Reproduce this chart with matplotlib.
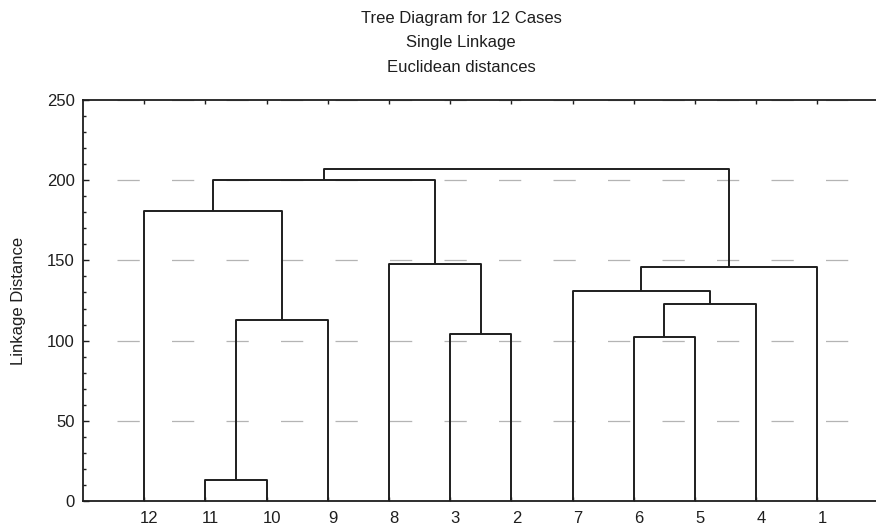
import matplotlib
matplotlib.use("Agg")
import matplotlib.pyplot as plt
import matplotlib.transforms as mtransforms
from matplotlib.ticker import MultipleLocator

plt.rcParams['font.family'] = ['Liberation Sans', 'DejaVu Sans']

# leaf order along the x axis (case numbers)
leaf_order = ['12', '11', '10', '9', '8', '3', '2', '7', '6', '5', '4', '1']

# single-linkage merges: (left cluster, right cluster, linkage distance, new cluster name)
merges = [
    ('11', '10', 13, 'A'),
    ('A', '9', 113, 'B'),
    ('12', 'B', 181, 'C'),
    ('3', '2', 104, 'D'),
    ('8', 'D', 148, 'E'),
    ('C', 'E', 200, 'F'),
    ('6', '5', 102, 'G'),
    ('G', '4', 123, 'H'),
    ('7', 'H', 131, 'I'),
    ('I', '1', 146, 'J'),
    ('F', 'J', 207, 'K'),
]

title_lines = ['Tree Diagram for 12 Cases', 'Single Linkage', 'Euclidean distances']
y_label = 'Linkage Distance'

fig = plt.figure(figsize=(8.76, 5.27), dpi=100)
ax = fig.add_axes([83 / 876, 1 - 501 / 527, 1 - 83 / 876, 401 / 527])

# x position and height of every node
pos = {name: i + 1 for i, name in enumerate(leaf_order)}
height = {name: 0 for name in leaf_order}

line_kw = dict(color='#1e1e1e', lw=1.4, solid_capstyle='butt', zorder=3)
for left, right, h, new in merges:
    xl, xr = pos[left], pos[right]
    ax.plot([xl, xl, xr, xr], [height[left], h, h, height[right]], **line_kw)
    pos[new] = (xl + xr) / 2
    height[new] = h

ax.set_xlim(0, 12.96)
ax.set_ylim(0, 250)

ax.set_xticks(range(1, len(leaf_order) + 1))
ax.set_xticklabels(leaf_order)
ax.yaxis.set_major_locator(MultipleLocator(50))
ax.yaxis.set_minor_locator(MultipleLocator(10))

ax.tick_params(axis='x', direction='in', top=True, bottom=True, length=3,
               width=1, labelsize=12, pad=7, colors='#1e1e1e')
ax.tick_params(axis='y', which='major', direction='in', length=4, width=1,
               labelsize=12, pad=6, colors='#1e1e1e')
ax.tick_params(axis='y', which='minor', direction='in', length=2.5, width=1,
               colors='#1e1e1e')

# scanned labels sit a little to the right of the leaves
shift = mtransforms.ScaledTranslation(5 / 100, 0, fig.dpi_scale_trans)
for lab in ax.get_xticklabels():
    lab.set_transform(lab.get_transform() + shift)

# sparse dashed horizontal grid (faint, dotted look in the scan)
ax.grid(axis='y', which='major', color='#b4b4b4', lw=0.9,
        linestyle=(16.4, (17.8, 25.8)), zorder=0)
ax.set_axisbelow(True)

for side in ['left', 'top', 'bottom']:
    ax.spines[side].set_color('#1e1e1e')
    ax.spines[side].set_linewidth(1.3)
ax.spines['right'].set_visible(False)

ax.set_ylabel(y_label, fontsize=12, color='#1e1e1e')
ax.yaxis.set_label_coords(-0.072, 0.5)

for txt, ypx in zip(title_lines, [19, 43, 67]):
    fig.text(461 / 876, 1 - ypx / 527, txt, ha='center', va='center',
             fontsize=12, color='#1e1e1e')

fig.savefig('out.png', dpi=100)
